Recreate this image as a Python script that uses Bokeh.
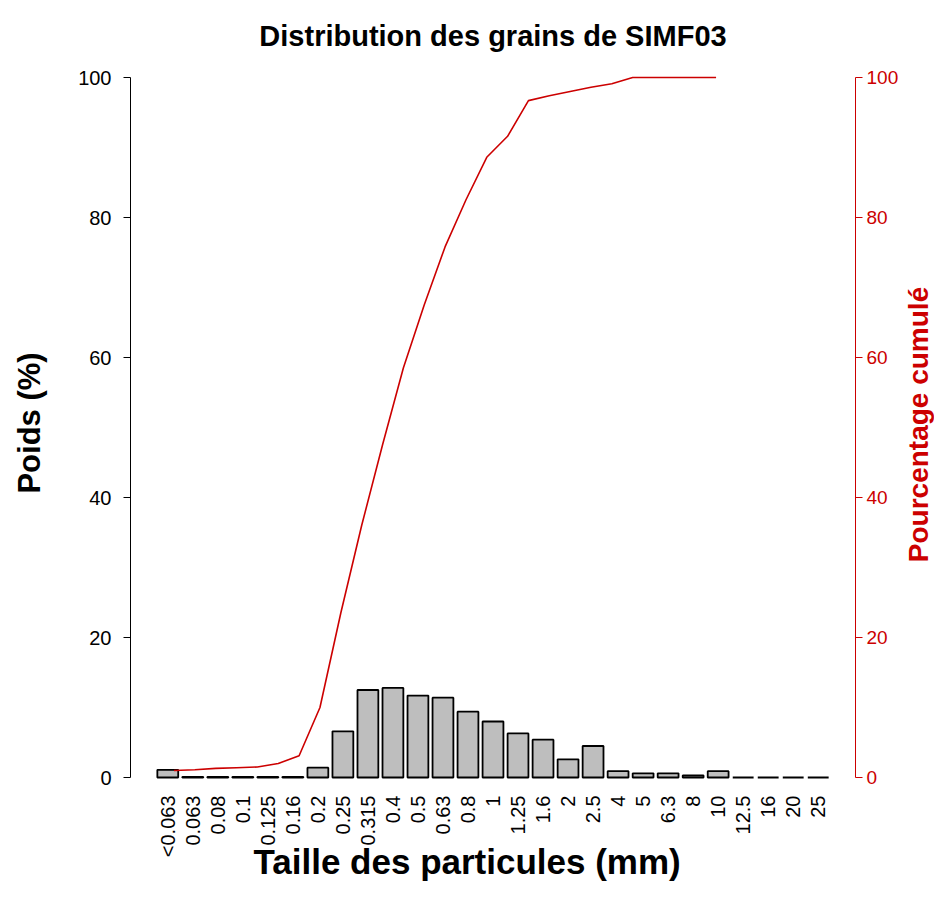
import math
from bokeh.plotting import figure
from bokeh.layouts import row
from bokeh.models import Range1d, LinearAxis, FixedTicker, Title, AllLabels
from bokeh.core.properties import value
from bokeh.embed import file_html
from bokeh.resources import INLINE

# ---- data ----
sizes = ["<0.063", "0.063", "0.08", "0.1", "0.125", "0.16", "0.2", "0.25", "0.315",
         "0.4", "0.5", "0.63", "0.8", "1", "1.25", "1.6", "2", "2.5", "4", "5",
         "6.3", "8", "10", "12.5", "16", "20", "25"]
weights = [1.1, 0.1, 0.1, 0.1, 0.1, 0.1, 1.4, 6.6, 12.5, 12.8, 11.7, 11.4, 9.4, 8.0,
           6.3, 5.4, 2.6, 4.5, 0.9, 0.6, 0.6, 0.3, 0.9, 0.0, 0.0, 0.0, 0.0]
cumulative = [1.0, 1.1, 1.3, 1.4, 1.5, 2.0, 3.1, 10.0, 23.5, 36.0, 47.5, 58.5, 67.5,
              75.8, 82.5, 88.6, 91.6, 96.7, 97.4, 98.0, 98.6, 99.1, 100, 100, 100, 100, 100]
y_ticks = [0, 20, 40, 60, 80, 100]

title_text = "Distribution des grains de SIMF03"
xlab = "Taille des particules (mm)"
ylab = "Poids (%)"
ylab2 = "Pourcentage cumulé"

FONT = "Liberation Sans"
RED = "#CC0000"

# ---- layout (pixels) ----
TOTAL_W, H = 934, 881
MAIN_W = 901
SIDE_W = TOTAL_W - MAIN_W
B_LEFT, B_RIGHT, B_TOP, B_BOTTOM = 130, 43, 66, 102
PX_PER_UNIT = 7.0
ZERO_PX = 777              # pixel row of y = 0
y1 = 100 + (ZERO_PX - 700 - B_TOP) / PX_PER_UNIT
y0 = y1 - (H - B_TOP - B_BOTTOM) / PX_PER_UNIT
RIGHT_TITLE_PX = 424       # vertical centre of the right axis title

n = len(sizes)
space, bw = 0.2, 1.0
centers = [space + bw / 2 + i * (space + bw) for i in range(n)]
lo, hi = space, n * (space + bw)
pad = 0.04 * (hi - lo)
x0, x1 = lo - pad, hi + pad
line_x = list(range(1, n + 1))

yr = Range1d(y0, y1)

p = figure(width=MAIN_W, height=H,
           x_range=Range1d(x0, x1), y_range=yr,
           output_backend="svg", toolbar_location=None,
           min_border_left=B_LEFT, min_border_right=B_RIGHT,
           min_border_top=B_TOP, min_border_bottom=B_BOTTOM)
p.extra_y_ranges = {"cum": Range1d(y0, y1)}
p.outline_line_color = None
p.xgrid.visible = False
p.ygrid.visible = False
p.background_fill_color = "white"
p.border_fill_color = "white"

p.title.text = title_text
p.title.align = "center"
p.title.text_font = FONT
p.title.text_font_size = "29px"
p.title.text_font_style = "bold"
p.title.text_color = "black"
p.title.standoff = 30

ya = p.yaxis[0]
ya.ticker = FixedTicker(ticks=y_ticks)
ya.bounds = (0, 100)
ya.major_tick_out = 7
ya.major_tick_in = 0
ya.minor_tick_line_color = None
ya.major_label_text_font = FONT
ya.major_label_text_font_size = "20px"
ya.major_label_text_color = "black"
ya.major_label_standoff = 12
ya.axis_label = ylab
ya.axis_label_text_font = FONT
ya.axis_label_text_font_size = "31px"
ya.axis_label_text_font_style = "bold"
ya.axis_label_text_color = "black"
ya.axis_label_standoff = 28

ra = LinearAxis(y_range_name="cum", ticker=FixedTicker(ticks=y_ticks), bounds=(0, 100))
ra.axis_line_color = RED
ra.major_tick_line_color = RED
ra.major_tick_out = 7
ra.major_tick_in = 0
ra.minor_tick_line_color = None
ra.major_label_text_font = FONT
ra.major_label_text_font_size = "19px"
ra.major_label_text_color = RED
ra.major_label_standoff = 4
p.add_layout(ra, "right")

xa = p.xaxis[0]
xa.ticker = FixedTicker(ticks=centers)
xa.major_label_overrides = {c: s for c, s in zip(centers, sizes)}
xa.major_label_policy = AllLabels()
xa.axis_line_color = None
xa.major_tick_line_color = None
xa.minor_tick_line_color = None
xa.major_tick_out = 0
xa.major_label_orientation = math.pi / 2
xa.major_label_text_font = FONT
xa.major_label_text_font_size = "20px"
xa.major_label_text_color = "black"
xa.major_label_standoff = 16

xt = Title(text=xlab, align="left", offset=123, vertical_align="top", standoff=-38,
           text_font=FONT, text_color="black", text_font_size="35px", text_font_style="bold")
p.add_layout(xt, "below")

p.vbar(x=centers, top=weights, bottom=0, width=bw,
       fill_color="#BEBEBE", line_color="black", line_width=1.8)
p.line(x=line_x, y=cumulative, y_range_name="cum", line_color=RED, line_width=1.6)

# ---- narrow strip on the right holding the right axis title (reads bottom-to-top) ----
q = figure(width=SIDE_W, height=H, x_range=Range1d(0, SIDE_W), y_range=yr,
           output_backend="svg", toolbar_location=None,
           x_axis_location=None, y_axis_location=None,
           min_border_left=0, min_border_right=0,
           min_border_top=B_TOP, min_border_bottom=B_BOTTOM, outline_line_color=None)
q.xgrid.visible = False
q.ygrid.visible = False
q.background_fill_color = "white"
q.border_fill_color = "white"
q.text(x=[SIDE_W / 2], y=[(ZERO_PX - RIGHT_TITLE_PX) / PX_PER_UNIT], text=[ylab2],
       angle=math.pi / 2, text_align="center", text_baseline="middle",
       text_font=value(FONT), text_font_size="28px", text_font_style="bold",
       text_color=RED)

layout = row(p, q, spacing=0)
open("out.html", "w").write(file_html(layout, INLINE))
